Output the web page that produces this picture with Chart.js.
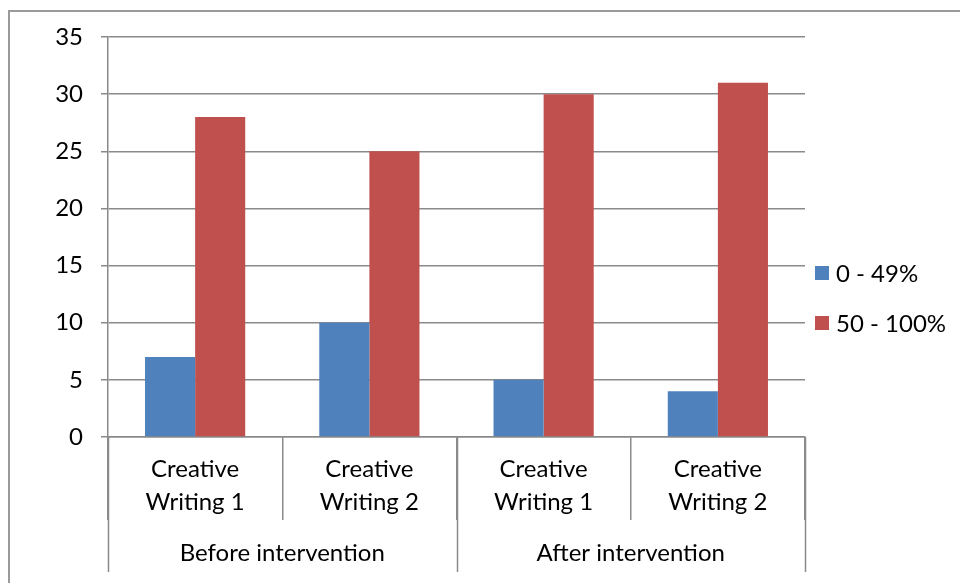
<!DOCTYPE html>
<html>
<head>
<meta charset="utf-8">
<script src="https://cdn.jsdelivr.net/npm/chart.js@4/dist/chart.umd.min.js"></script>
<style>
  html, body { margin: 0; padding: 0; background: #fff; }
  #wrap { width: 960px; height: 583px; }
</style>
</head>
<body>
<div id="wrap"><canvas id="c" width="960" height="583"></canvas></div>
<script>
// data
var categories = [['Creative', 'Writing 1'], ['Creative', 'Writing 2'], ['Creative', 'Writing 1'], ['Creative', 'Writing 2']];
var groups = ['Before intervention', 'After intervention'];
var low = [7, 10, 5, 4];       // 0 - 49%
var high = [28, 25, 30, 31];   // 50 - 100%
var seriesNames = ['0 - 49%', '50 - 100%'];
var yTicks = [0, 5, 10, 15, 20, 25, 30, 35];

var FONT = 'Lato, "Open Sans", sans-serif';
var GRID = '#8a8a8a';

// frame, group labels, outer separators and legend
var extras = {
  id: 'extras',
  beforeDraw: function(chart) {
    var c = chart.ctx;
    c.save();
    c.strokeStyle = '#9a9a9a';
    c.lineWidth = 2;
    c.beginPath();
    c.moveTo(9, 583); c.lineTo(9, 11); c.lineTo(960, 11);
    c.stroke();
    c.restore();
  },
  afterDraw: function(chart) {
    var c = chart.ctx, x = chart.scales.x, area = chart.chartArea;
    var w = x.width / categories.length;
    c.save();
    c.strokeStyle = GRID;
    c.lineWidth = 1.5;
    // outer separators between the groups
    [0, 2, 4].forEach(function(i) {
      var px = Math.round(x.left + w * i) + 0.5;
      c.beginPath(); c.moveTo(px, area.bottom); c.lineTo(px, 572); c.stroke();
    });
    c.fillStyle = '#000';
    c.font = '24px ' + FONT;
    c.textAlign = 'center';
    c.textBaseline = 'middle';
    groups.forEach(function(g, i) {
      c.fillText(g, x.left + w * (i * 2 + 1), 553);
    });
    // legend
    c.textAlign = 'left';
    chart.data.datasets.forEach(function(ds, i) {
      var y = 273 + i * 50;
      c.fillStyle = ds.backgroundColor;
      c.fillRect(815, y - 7, 14, 14);
      c.fillStyle = '#000';
      c.fillText(ds.label, 836, y + 1);
    });
    c.restore();
  }
};

new Chart(document.getElementById('c'), {
  type: 'bar',
  data: {
    labels: categories,
    datasets: [
      { label: seriesNames[0], data: low, backgroundColor: '#4f81bd' },
      { label: seriesNames[1], data: high, backgroundColor: '#c0504d' }
    ]
  },
  options: {
    responsive: false,
    animation: false,
    layout: { padding: { left: 0, right: 155, top: 37, bottom: 0 } },
    datasets: { bar: { categoryPercentage: 0.575, barPercentage: 1 } },
    plugins: {
      legend: { display: false },
      tooltip: { enabled: false }
    },
    scales: {
      y: {
        min: 0, max: 35,
        afterBuildTicks: function(s) { s.ticks = yTicks.map(function(v) { return { value: v }; }); },
        afterFit: function(s) { s.width = 108; },
        border: { color: GRID, width: 1.5 },
        grid: { color: GRID, lineWidth: 1.5, tickLength: 7 },
        ticks: { color: '#000', font: { family: FONT, size: 24 }, padding: 18 }
      },
      x: {
        afterFit: function(s) { s.height = 583 - 37 - 400; },
        border: { color: GRID, width: 1.5 },
        grid: { color: GRID, lineWidth: 1.5, drawOnChartArea: false, tickLength: 83, offset: true },
        ticks: { color: '#000', font: { family: FONT, size: 24, lineHeight: 1.375 }, padding: -67, maxRotation: 0 }
      }
    }
  },
  plugins: [extras]
});
</script>
</body>
</html>
